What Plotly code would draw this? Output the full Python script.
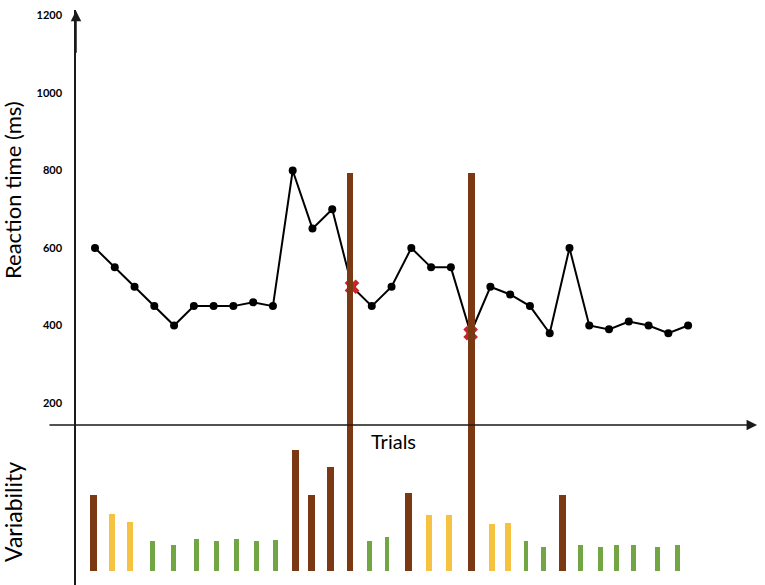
import plotly.graph_objects as go

# ---- data ----
trials = list(range(1, 32))
reaction_ms = [600, 550, 500, 450, 400, 450, 450, 450, 460, 450,
               800, 650, 700, 500, 450, 500, 600, 550, 550, 380,
               500, 480, 450, 380, 600, 400, 390, 410, 400, 380, 400]
error_trials = [14, 20]
error_ms = [500, 380]

# variability bars (positions in trial units, heights in arbitrary units)
var_pos = [0.91, 1.85, 2.77, 3.93, 4.96, 6.14, 7.16, 8.17, 9.16, 10.14,
           11.12, 11.96, 12.92, 13.90, 14.87, 15.77, 16.87, 17.89, 18.91, 20.05,
           21.07, 21.89, 22.80, 23.70, 24.66, 25.55, 26.58, 27.39, 28.23, 29.43, 30.45]
var_val = [7.6, 5.7, 4.9, 3.0, 2.6, 3.2, 3.0, 3.2, 3.0, 3.1,
           12.1, 7.6, 10.4, 39.8, 3.0, 3.4, 7.8, 5.6, 5.6, 39.8,
           4.7, 4.8, 3.0, 2.4, 7.6, 2.6, 2.4, 2.6, 2.6, 2.4, 2.6]
var_level = ["high", "mid", "mid", "low", "low", "low", "low", "low", "low", "low",
             "high", "high", "high", "high", "low", "low", "high", "mid", "mid", "high",
             "mid", "mid", "low", "low", "high", "low", "low", "low", "low", "low", "low"]

y_ticks = [200, 400, 600, 800, 1000, 1200]

level_color = {"high": "#7A3913", "mid": "#F5C242", "low": "#72A645"}
level_width = {"high": 0.35, "mid": 0.30, "low": 0.25}

FONT = "Lato, Carlito, 'Open Sans', sans-serif"
AX = "#1a1a1a"

fig = go.Figure()

fig.add_trace(go.Bar(
    x=var_pos, y=var_val, yaxis="y2",
    width=[level_width[l] for l in var_level],
    marker=dict(color=[level_color[l] for l in var_level], line=dict(width=0)),
    showlegend=False, hoverinfo="skip",
))

fig.add_trace(go.Scatter(
    x=trials, y=reaction_ms, mode="lines+markers",
    line=dict(color="black", width=2),
    marker=dict(color="black", size=8),
    showlegend=False,
))

fig.add_trace(go.Scatter(
    x=error_trials, y=error_ms, mode="markers",
    marker=dict(symbol="x", color="#C8232B", size=13, line=dict(width=0)),
    showlegend=False,
))

# horizontal axis (with arrow) crossing at ~143 ms
fig.add_annotation(x=34.49, y=143.2, ax=-1.38, ay=143.2, xref="x", yref="y",
                   axref="x", ayref="y", text="", showarrow=True,
                   arrowhead=2, arrowsize=1.4, arrowwidth=1.5, arrowcolor=AX,
                   standoff=0, startstandoff=0)
# arrow head on top of vertical axis
fig.add_annotation(x=0.0389, y=1212, ax=0.0389, ay=1100, xref="x", yref="y",
                   axref="x", ayref="y", text="", showarrow=True,
                   arrowhead=2, arrowsize=1.4, arrowwidth=1.5, arrowcolor=AX,
                   standoff=0, startstandoff=0)

fig.add_annotation(x=-0.0914, y=0.687, xref="paper", yref="paper",
                   text="Reaction time (ms)", textangle=-90, showarrow=False,
                   font=dict(family=FONT, size=22, color="black"),
                   xanchor="center", yanchor="middle")
fig.add_annotation(x=-0.0914, y=0.127, xref="paper", yref="paper",
                   text="Variability", textangle=-90, showarrow=False,
                   font=dict(family=FONT, size=23, color="black"),
                   xanchor="center", yanchor="middle")
fig.add_annotation(x=0.4615, y=0.2504, xref="paper", yref="paper",
                   text="Trials", showarrow=False,
                   font=dict(family=FONT, size=20, color="black"),
                   xanchor="center", yanchor="middle")

fig.update_layout(
    width=765, height=585,
    margin=dict(l=76, r=0, t=10, b=0),
    paper_bgcolor="white", plot_bgcolor="white",
    bargap=0,
    xaxis=dict(range=[0.0389, 34.89], visible=False),
    yaxis=dict(range=[-269.7, 1214.2], tickvals=y_ticks,
               ticktext=[str(v) for v in y_ticks],
               showgrid=False, zeroline=False,
               showline=True, linecolor=AX, linewidth=1.5,
               ticks="", ticklabelstandoff=10,
               tickfont=dict(family=FONT, size=11, color="black", weight="bold")),
    yaxis2=dict(range=[-1.37, 56.13], overlaying="y", visible=False),
)

fig.write_html("out.html", config={"displayModeBar": False},
               post_script="document.body.style.margin='0';")
